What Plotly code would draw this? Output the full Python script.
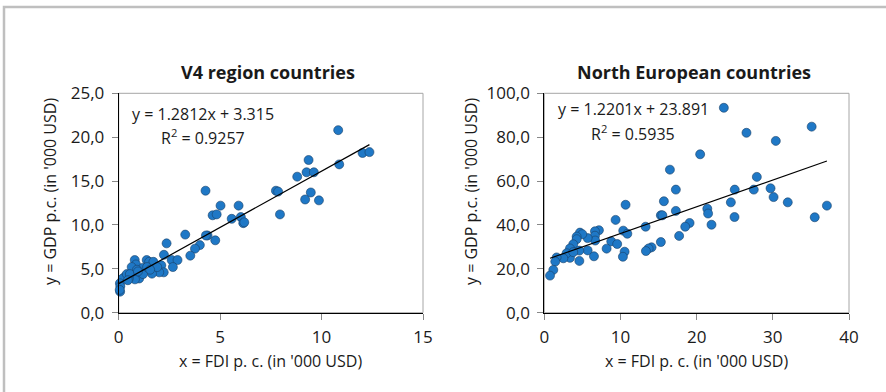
import plotly.graph_objects as go

# V4 region: FDI per capita vs GDP per capita ('000 USD)
v4_fdi = [10.82, 10.87, 12.02, 12.36, 9.36, 8.80, 9.26, 9.62, 9.47, 9.19, 9.87,
          7.75, 7.86, 7.95, 4.28, 5.02, 5.91, 4.63, 4.83, 5.57, 6.02, 6.14, 6.19,
          4.38, 4.30, 4.76, 3.28, 4.00, 3.76, 3.53, 2.36, 2.23, 2.61, 2.90, 2.67,
          2.10, 2.22, 2.00, 1.64, 1.38, 1.50, 1.71, 0.79, 0.85, 0.64, 1.18, 0.90,
          1.01, 0.80, 0.50, 0.31, 0.20, 0.40, 0.06, 0.08, 0.07, 0.05, 1.20, 1.40,
          1.90, 0.55, 0.45, 0.95, 1.55]
v4_gdp = [20.8, 16.9, 18.2, 18.3, 17.4, 15.5, 16.0, 16.0, 13.7, 12.9, 12.8,
          13.9, 13.8, 11.2, 13.9, 12.2, 12.2, 11.1, 11.2, 10.7, 10.9, 10.2, 10.3,
          8.8, 8.8, 8.25, 8.9, 7.7, 7.3, 6.5, 7.9, 6.6, 6.0, 6.0, 5.2,
          5.4, 4.6, 4.6, 4.45, 6.0, 5.8, 5.8, 6.0, 5.5, 5.2, 5.1, 4.9,
          3.9, 3.8, 3.9, 4.1, 3.9, 4.4, 3.35, 3.0, 2.4, 2.6, 4.4, 5.2,
          5.2, 4.4, 3.7, 4.7, 4.9]
v4_slope, v4_intercept, v4_r2 = 1.2812, 3.315, 0.9257
v4_fit_x = [0.0, 12.36]

# North European countries
ne_fdi = [23.57, 35.1, 26.54, 30.39, 20.46, 16.49, 27.9, 25.0, 27.5, 29.7, 30.1,
          31.96, 24.49, 24.97, 35.5, 37.1, 17.27, 15.7, 17.27, 15.3, 15.5, 21.4,
          21.5, 21.95, 19.07, 18.5, 17.7, 13.3, 15.3, 14.08, 13.7, 13.34, 10.67,
          9.36, 10.36, 10.9, 8.79, 9.57, 8.18, 10.54, 10.32, 7.17, 6.65, 6.65,
          6.68, 5.69, 5.69, 6.52, 4.68, 4.99, 4.25, 4.25, 3.8, 3.37, 4.6, 4.6,
          3.37, 2.93, 2.5, 1.62, 1.44, 1.18, 0.75, 3.8]
ne_gdp = [93.4, 84.8, 82.0, 78.3, 72.2, 65.2, 61.9, 56.1, 56.1, 56.7, 52.7,
          50.3, 50.3, 43.6, 43.5, 48.8, 56.1, 50.8, 46.4, 44.4, 44.4, 47.4,
          45.2, 40.1, 40.9, 39.2, 35.0, 39.2, 32.2, 29.8, 29.3, 28.1, 49.2,
          42.3, 37.4, 36.0, 32.5, 31.3, 29.2, 27.8, 25.5, 37.6, 37.1, 35.1,
          32.9, 34.0, 28.4, 25.7, 36.5, 35.8, 34.7, 33.5, 31.2, 29.3, 28.3, 23.6,
          25.0, 27.1, 24.8, 25.2, 23.3, 19.5, 16.9, 27.6]
ne_slope, ne_intercept, ne_r2 = 1.2201, 23.891, 0.5935
ne_fit_x = [0.75, 37.1]

W, H = 886, 392
FONT = "Open Sans"
TEXT = "#1a1a1a"
MARKER_COLOR = "#1f78c6"
MARKER_EDGE = "#1a3f66"


def px(x):
    return x / W


def py(y):
    return 1 - y / H


fig = go.Figure()

panels = [
    dict(fdi=v4_fdi, gdp=v4_gdp, slope=v4_slope, icpt=v4_intercept, r2=v4_r2,
         fit_x=v4_fit_x, xa="x", ya="y"),
    dict(fdi=ne_fdi, gdp=ne_gdp, slope=ne_slope, icpt=ne_intercept, r2=ne_r2,
         fit_x=ne_fit_x, xa="x2", ya="y2"),
]

for p in panels:
    fig.add_trace(go.Scatter(
        x=p["fdi"], y=p["gdp"], mode="markers", xaxis=p["xa"], yaxis=p["ya"],
        cliponaxis=False, showlegend=False,
        marker=dict(size=9, color=MARKER_COLOR,
                    line=dict(color=MARKER_EDGE, width=0.6)),
    ))
    fit_y = [p["slope"] * x + p["icpt"] for x in p["fit_x"]]
    fig.add_trace(go.Scatter(
        x=p["fit_x"], y=fit_y, mode="lines", xaxis=p["xa"], yaxis=p["ya"],
        showlegend=False, line=dict(color="black", width=1.2),
    ))

y_dom = [py(312.7), py(93.3)]
axis_common = dict(
    showline=True, linecolor="black", linewidth=1, showgrid=False,
    zeroline=False, ticks="outside", ticklen=6, tickcolor="#888888",
    tickwidth=1, automargin=False,
    tickfont=dict(family=FONT, size=17, color=TEXT),
)

fig.update_layout(
    width=W, height=H,
    margin=dict(l=0, r=0, t=0, b=0),
    paper_bgcolor="white", plot_bgcolor="white",
    separators=", ",
    font=dict(family=FONT, color=TEXT),
    xaxis=dict(domain=[px(118.7), px(423)], range=[0, 15], dtick=5,
               anchor="y", ticklabelstandoff=3, **axis_common),
    yaxis=dict(domain=y_dom, range=[0, 25], dtick=5, tickformat=".1f",
               anchor="x", ticklabelstandoff=4, **axis_common),
    xaxis2=dict(domain=[px(544.3), px(849)], range=[0, 40], dtick=10,
                anchor="y2", ticklabelstandoff=3, **axis_common),
    yaxis2=dict(domain=y_dom, range=[0, 100], dtick=20, tickformat=".1f",
                anchor="x2", ticklabelstandoff=4, **axis_common),
)

# outer frame and plot-area borders
shapes = [dict(type="rect", xref="paper", yref="paper",
               x0=px(4), x1=px(W + 20), y0=py(7), y1=py(H + 20),
               line=dict(color="#bfbfbf", width=2.5), layer="below")]
for xa, ya in (("x", "y"), ("x2", "y2")):
    shapes.append(dict(type="rect", xref=f"{xa} domain", yref=f"{ya} domain",
                       x0=0, x1=1, y0=0, y1=1,
                       line=dict(color="#a6a6a6", width=1), layer="below"))
fig.update_layout(shapes=shapes)

ann = []
titles = [("V4 region countries", 268), ("North European countries", 694)]
for text, cx in titles:
    ann.append(dict(text=f"<b>{text}</b>", x=px(cx), y=py(72), xref="paper",
                    yref="paper", showarrow=False, xanchor="center",
                    yanchor="middle", font=dict(family=FONT, size=18, color=TEXT)))
for cx in (270.5, 696.5):
    ann.append(dict(text="x = FDI p. c. (in '000 USD)", x=px(cx), y=py(361),
                    xref="paper", yref="paper", showarrow=False,
                    xanchor="center", yanchor="middle",
                    font=dict(family=FONT, size=16, color=TEXT)))
for cx in (50, 471):
    ann.append(dict(text="y = GDP p.c. (in '000 USD)", x=px(cx), y=py(192),
                    xref="paper", yref="paper", showarrow=False, textangle=-90,
                    xanchor="center", yanchor="middle",
                    font=dict(family=FONT, size=16, color=TEXT)))

eqs = [(v4_slope, v4_intercept, v4_r2, 203, 114, 137),
       (ne_slope, ne_intercept, ne_r2, 633, 109, 133)]
for slope, icpt, r2, cx, y1, y2 in eqs:
    ann.append(dict(text=f"y = {slope}x + {icpt}", x=px(cx), y=py(y1),
                    xref="paper", yref="paper", showarrow=False,
                    xanchor="center", yanchor="middle",
                    font=dict(family=FONT, size=16, color=TEXT)))
    ann.append(dict(text=f"R<sup>2</sup> = {r2}", x=px(cx), y=py(y2),
                    xref="paper", yref="paper", showarrow=False,
                    xanchor="center", yanchor="middle",
                    font=dict(family=FONT, size=16, color=TEXT)))
fig.update_layout(annotations=ann)

fig.write_html("out.html")
